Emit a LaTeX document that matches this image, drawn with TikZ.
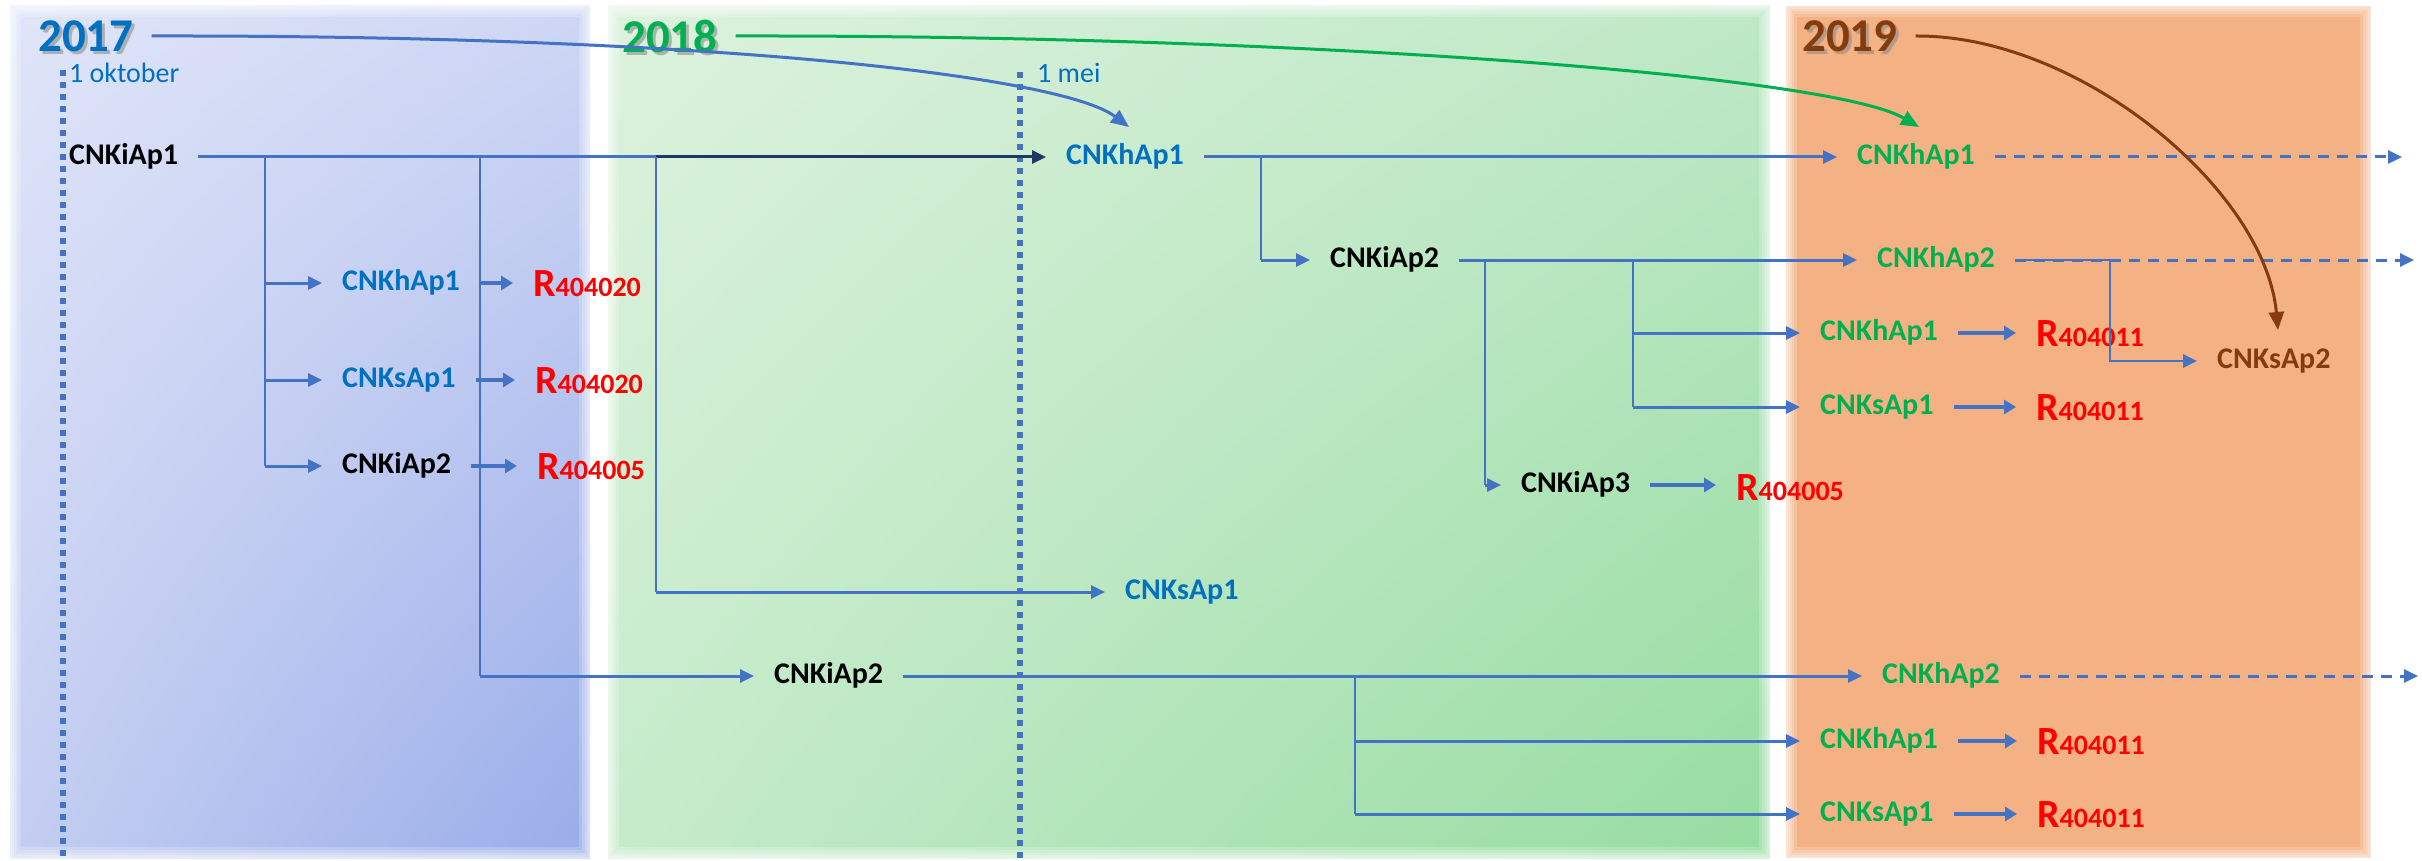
\documentclass[tikz,border=0pt]{standalone}
\usepackage{fontspec}
\setmainfont{Carlito}
\usetikzlibrary{arrows.meta,shadings}
\definecolor{cblue}{HTML}{4472C4}
\definecolor{tblue}{HTML}{0070C0}
\definecolor{tgreen}{HTML}{00B050}
\definecolor{tbrown}{HTML}{843C0C}
\definecolor{tred}{HTML}{FF0000}
\definecolor{navy}{HTML}{1F3864}
\definecolor{orangebg}{HTML}{F4B183}
\definecolor{bUL}{RGB}{224,229,248}
\definecolor{bUR}{RGB}{206,214,244}
\definecolor{bLL}{RGB}{196,206,241}
\definecolor{bLR}{RGB}{152,172,233}
\definecolor{gUL}{RGB}{221,242,222}
\definecolor{gUR}{RGB}{190,232,198}
\definecolor{gLL}{RGB}{197,235,203}
\definecolor{gLR}{RGB}{150,220,160}
\newcommand\rcode[1]{{\fontsize{40}{40}\selectfont R}{\fontsize{28}{28}\selectfont #1}}
\begin{document}
\begin{tikzpicture}[x=1pt,y=-1pt,
  lbl/.style={anchor=west,inner xsep=20pt,inner ysep=2pt,text height=21pt,text depth=6pt,font=\fontsize{30}{36}\selectfont\bfseries},
  rlbl/.style={anchor=west,inner xsep=20pt,inner ysep=2pt,text height=26pt,text depth=0pt,font=\bfseries,text=tred},
  year/.style={anchor=west,inner xsep=18pt,inner ysep=0pt,font=\fontsize{47}{50}\selectfont\bfseries},
  datelbl/.style={anchor=west,inner sep=0pt,font=\fontsize{28}{30}\selectfont,text=tblue},
  tipA/.tip={Triangle[length=14pt,width=13pt]},
  conn/.style={draw=cblue,line width=3pt,-tipA},
  trunk/.style={draw=cblue,line width=3pt},
  vline/.style={draw=cblue,line width=2pt},
  small/.style={draw=cblue,line width=3.5pt,-{Triangle[length=12pt,width=14pt]}},
  dashconn/.style={draw=cblue,line width=3pt,dash pattern=on 11pt off 8pt,-tipA},
  dotline/.style={draw=cblue,line width=6pt,dash pattern=on 6pt off 6pt},
  yearcurve/.style={line width=3pt,-{Triangle[length=18pt,width=15pt]}},
  soft/.style={draw=white,opacity=0.2}
]
\useasboundingbox (0,0) rectangle (2422,861);
\fill[white] (0,0) rectangle (2422,861);
% panels
\shade[upper left=bUL,upper right=bUR,lower left=bLL,lower right=bLR] (10,6) rectangle (590,858);
\shade[upper left=gUL,upper right=gUR,lower left=gLL,lower right=gLR] (608,6) rectangle (1770,858);
\fill[orangebg] (1786,6) rectangle (2371,858);
\foreach \a/\b in {10/590,608/1770,1786/2371}{
  \foreach \w in {22,16,11,7,3}{
    \draw[soft,line width=\w pt] (\a,6) rectangle (\b,858);
  }
}
% date lines
\draw[dotline] (63,70) -- (63,861);
\draw[dotline] (1020,72) -- (1020,861);
\node[datelbl] (d17) at (69,73) {1 oktober};
\node[datelbl] (d18) at (1037,73) {1 mei};
% years
\node[year,text=black!45,opacity=0.6] at (23,39) {2017};
\node[year,text=tblue] (y17) at (20,36) {2017};
\node[year,text=black!45,opacity=0.6] at (607,39) {2018};
\node[year,text=tgreen] (y18) at (604,36) {2018};
\node[year,text=black!45,opacity=0.6] at (1787,39) {2019};
\node[year,text=tbrown] (y19) at (1784,36) {2019};
% nodes 2017
\node[lbl] (kiap1) at (49,157) {CNKiAp1};
\node[lbl,text=tblue] (khap1a) at (322,283) {CNKhAp1};
\node[lbl,text=tblue] (ksap1a) at (322,380) {CNKsAp1};
\node[lbl] (kiap2a) at (322,466) {CNKiAp2};
\node[rlbl] (ra1) at (513,283) {\rcode{404020}};
\node[rlbl] (ra2) at (515,380) {\rcode{404020}};
\node[rlbl] (ra3) at (517,466) {\rcode{404005}};
% nodes 2018
\node[lbl,text=tblue] (khap1b) at (1046,157) {CNKhAp1};
\node[lbl,text=tblue] (ksap1b) at (1105,592) {CNKsAp1};
\node[lbl] (kiap2b) at (754,676) {CNKiAp2};
\node[lbl] (kiap2c) at (1310,260) {CNKiAp2};
\node[lbl] (kiap3) at (1501,485) {CNKiAp3};
\node[rlbl] (rb1) at (1716,487) {\rcode{404005}};
% nodes 2019
\node[lbl,text=tgreen] (khap1g) at (1837,157) {CNKhAp1};
\node[lbl,text=tgreen] (khap2g) at (1857,260) {CNKhAp2};
\node[lbl,text=tgreen] (khap1g2) at (1800,333) {CNKhAp1};
\node[lbl,text=tgreen] (ksap1g2) at (1800,407) {CNKsAp1};
\node[rlbl] (rb2) at (2016,333) {\rcode{404011}};
\node[rlbl] (rb3) at (2016,407) {\rcode{404011}};
\node[lbl,text=tbrown] (ksap2) at (2197,361) {CNKsAp2};
\node[lbl,text=tgreen] (khap2g2) at (1862,676) {CNKhAp2};
\node[lbl,text=tgreen] (khap1g3) at (1800,741) {CNKhAp1};
\node[lbl,text=tgreen] (ksap1g3) at (1800,814) {CNKsAp1};
\node[rlbl] (rc1) at (2017,741) {\rcode{404011}};
\node[rlbl] (rc2) at (2017,814) {\rcode{404011}};
% branch points
\coordinate (b1) at (265,157);
\coordinate (b2) at (480,157);
\coordinate (b3) at (656,157);
\coordinate (b4) at (1261,157);
\coordinate (b5) at (1485,260);
\coordinate (b6) at (1633,260);
\coordinate (b7) at (1355,676);
\coordinate (b8) at (2110,260);
\coordinate (e1) at (2402,157);
\coordinate (e2) at (2414,260);
\coordinate (e3) at (2418,676);
\coordinate (t17) at (1129,127);
\coordinate (t18) at (1919,127);
\coordinate (t19) at (2278,330);
% main line 2017 -> 2018
\draw[draw=navy,line width=3pt,-tipA] (kiap1.east) -- (kiap1.east -| khap1b.west);
\draw[trunk] (kiap1.east) -- (b3);
% 2017 branches
\draw[vline] (b1) -- (b1 |- kiap2a.west);
\draw[conn] (b1 |- khap1a.west) -- (khap1a.west);
\draw[conn] (b1 |- ksap1a.west) -- (ksap1a.west);
\draw[conn] (b1 |- kiap2a.west) -- (kiap2a.west);
\draw[small] (khap1a.east) -- (khap1a.east -| ra1.west);
\draw[small] (ksap1a.east) -- (ksap1a.east -| ra2.west);
\draw[small] (kiap2a.east) -- (kiap2a.east -| ra3.west);
\draw[vline] (b2) -- (b2 |- kiap2b.west);
\draw[conn] (b2 |- kiap2b.west) -- (kiap2b.west);
\draw[vline] (b3) -- (b3 |- ksap1b.west);
\draw[conn] (b3 |- ksap1b.west) -- (ksap1b.west);
% 2018 branches
\draw[conn] (khap1b.east) -- (khap1b.east -| khap1g.west);
\draw[vline] (b4) -- (b4 |- kiap2c.west);
\draw[conn] (b4 |- kiap2c.west) -- (kiap2c.west);
\draw[conn] (kiap2c.east) -- (kiap2c.east -| khap2g.west);
\draw[vline] (b5) -- (b5 |- kiap3.west);
\draw[conn] (b5 |- kiap3.west) -- (kiap3.west);
\draw[small] (kiap3.east) -- (kiap3.east -| rb1.west);
\draw[vline] (b6) -- (b6 |- ksap1g2.west);
\draw[conn] (b6 |- khap1g2.west) -- (khap1g2.west);
\draw[conn] (b6 |- ksap1g2.west) -- (ksap1g2.west);
\draw[small] (khap1g2.east) -- (khap1g2.east -| rb2.west);
\draw[small] (ksap1g2.east) -- (ksap1g2.east -| rb3.west);
% lower CNKiAp2
\draw[conn] (kiap2b.east) -- (kiap2b.east -| khap2g2.west);
\draw[vline] (b7) -- (b7 |- ksap1g3.west);
\draw[conn] (b7 |- khap1g3.west) -- (khap1g3.west);
\draw[conn] (b7 |- ksap1g3.west) -- (ksap1g3.west);
\draw[small] (khap1g3.east) -- (khap1g3.east -| rc1.west);
\draw[small] (ksap1g3.east) -- (ksap1g3.east -| rc2.west);
% 2019 continuations
\draw[dashconn] (khap1g.east) -- (khap1g.east -| e1);
\draw[dashconn] (khap2g.east) -- (khap2g.east -| e2);
\draw[dashconn] (khap2g2.east) -- (khap2g2.east -| e3);
\draw[draw=cblue,line width=2.5pt,-tipA] (khap2g.east) -- (khap2g.east -| b8) |- (ksap2.west);
% year curves
\draw[yearcurve,draw=cblue] (y17.east) .. controls (700,35) and (1060,75) .. (t17);
\draw[yearcurve,draw=tgreen] (y18.east) .. controls (1300,35) and (1830,75) .. (t18);
\draw[yearcurve,draw=tbrown] (y19.east) .. controls (2080,35) and (2265,190) .. (t19);
\end{tikzpicture}
\end{document}
